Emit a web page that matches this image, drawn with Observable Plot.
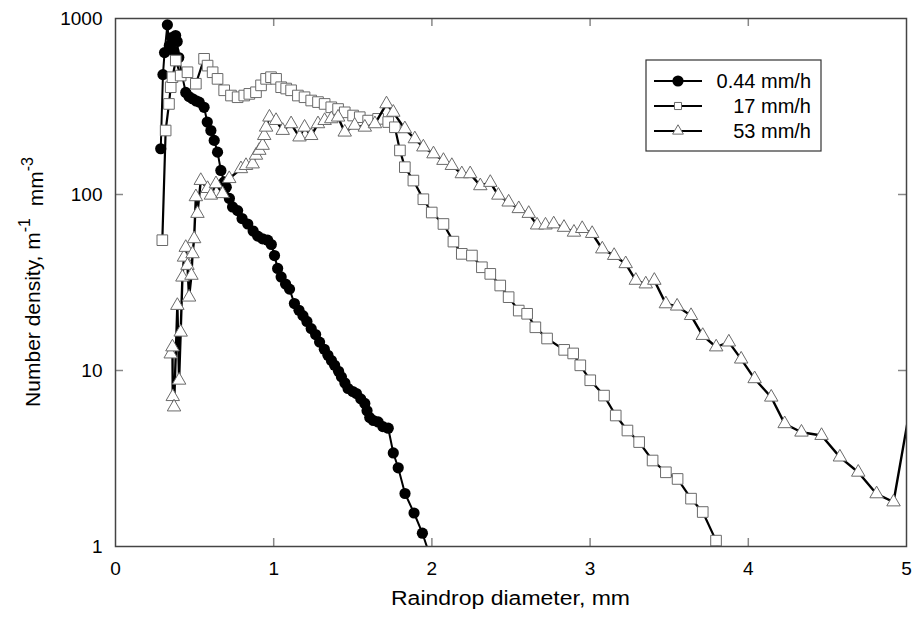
<!DOCTYPE html>
<html><head><meta charset="utf-8">
<script src="https://cdn.jsdelivr.net/npm/d3@7"></script>
<script src="https://cdn.jsdelivr.net/npm/@observablehq/plot@0.6"></script>
<style>body{margin:0;background:#fff;}</style>
</head><body><div id="chart"></div><script>
// Series labels
const seriesNames = ["0.44 mm/h", "17 mm/h", "53 mm/h"];
// 0.44 mm/h (filled circles)
const diam1 = [0.286,0.30,0.31,0.328,0.34,0.355,0.37,0.38,0.39,0.40,0.42,0.444,0.465,0.487,0.51,0.529,0.56,0.58,0.603,0.624,0.645,0.666,0.687,0.70,0.72,0.74,0.772,0.80,0.836,0.87,0.899,0.93,0.962,0.985,1.005,1.025,1.047,1.075,1.10,1.131,1.16,1.185,1.21,1.237,1.265,1.29,1.32,1.343,1.365,1.385,1.41,1.428,1.45,1.47,1.50,1.523,1.55,1.576,1.59,1.607,1.63,1.66,1.69,1.724,1.756,1.787,1.83,1.887,1.94,2.00];
const dens1 = [182,480,640,920,700,780,650,800,740,600,480,380,360,350,340,335,313,258,231,203,174,137,118,110,95,85,81,73,68,62,58,56,55,52,45,38,34,31,29,24,22,20.5,19,17.3,16,14.5,13.2,12.2,11.4,10.7,9.9,9.2,8.5,7.9,7.6,7.4,6.9,6.5,5.9,5.4,5.2,5.1,4.8,4.7,3.4,2.8,2.0,1.55,1.19,0.82];
// 17 mm/h (open squares)
const diam2 = [0.296,0.317,0.338,0.349,0.36,0.381,0.412,0.455,0.508,0.56,0.582,0.614,0.645,0.687,0.73,0.772,0.814,0.846,0.888,0.92,0.952,0.983,1.015,1.047,1.079,1.11,1.153,1.195,1.237,1.28,1.322,1.364,1.407,1.449,1.502,1.544,1.597,1.66,1.724,1.766,1.798,1.829,1.883,1.946,1.999,2.073,2.136,2.189,2.253,2.316,2.369,2.432,2.485,2.549,2.602,2.654,2.728,2.836,2.893,2.938,3.001,3.088,3.162,3.236,3.31,3.395,3.479,3.553,3.638,3.712,3.796,3.83];
const dens2 = [55,231,327,407,464,577,474,495,426,590,540,495,454,391,365,357,365,373,381,417,454,464,454,407,400,391,365,357,342,335,327,313,306,293,281,275,263,269,258,241,178,143,120,94,79,68,54,46,45,38.6,35.4,30.4,26.1,21.9,21,17.6,15.2,13.1,12.5,10.7,8.8,7.2,5.55,4.56,3.92,3.08,2.64,2.42,1.87,1.57,1.08,0.85];
// 53 mm/h (open triangles)
const diam3 = [0.349,0.36,0.362,0.37,0.391,0.402,0.412,0.423,0.433,0.444,0.455,0.465,0.48,0.487,0.497,0.508,0.518,0.539,0.582,0.603,0.635,0.677,0.719,0.793,0.825,0.867,0.888,0.909,0.93,0.94,0.952,0.973,1.015,1.057,1.11,1.163,1.195,1.237,1.28,1.322,1.364,1.407,1.449,1.512,1.576,1.64,1.713,1.756,1.829,1.892,1.946,2.01,2.073,2.126,2.189,2.242,2.306,2.369,2.42,2.485,2.549,2.612,2.665,2.718,2.77,2.835,2.898,2.95,3.013,3.077,3.152,3.225,3.289,3.352,3.406,3.479,3.55,3.638,3.712,3.797,3.877,3.955,4.04,4.145,4.23,4.336,4.463,4.579,4.695,4.811,4.918,5.05];
const dens3 = [12.4,13.6,7.1,6.2,23.4,8.8,16.5,33.9,44,50,39.5,26.1,34.7,46,56,97,78,120,108,99,115,101,123,140,146,149,167,178,190,216,241,275,263,231,252,212,241,216,252,263,269,275,226,247,241,252,327,293,236,207,186,170,156,146,131,131,112,117,99,90.5,83,78,67,67,68,65,61,64,60,49,45,40.4,32.5,31,32.5,23.9,23.2,20.5,15.8,13.6,14.5,11.6,8.97,7.05,4.98,4.46,4.27,3.22,2.64,1.99,1.79,8.5];
// Axis ticks
const xTicks = [0,1,2,3,4,5];
const yTicks = [1,10,100,1000];
const xInner = [1,2,3,4];
const yInner = [10,100];
const xLabel = "Raindrop diameter, mm";

const rows = (ds, ns) => ds.map((d,i) => ({d, n: ns[i]}));
const r1 = rows(diam1, dens1), r2 = rows(diam2, dens2), r3 = rows(diam3, dens3);

const W = 912, H = 622, mL = 115, mR = 6, mT = 18, mB = 76;
const pw = W - mL - mR, ph = H - mT - mB;
const tickStyle = {stroke: "#888", strokeWidth: 1.5};

const plot = Plot.plot({
  width: W, height: H,
  marginLeft: mL, marginRight: mR, marginTop: mT, marginBottom: mB,
  style: {fontFamily: "'Liberation Sans', Arial, sans-serif", fontSize: "19px", background: "#fff", color: "#000"},
  x: {domain: [0, 5]},
  y: {type: "log", domain: [1, 1000]},
  marks: [
    Plot.axisX({ticks: xTicks, tickSize: 0, tickPadding: 15, label: null, tickFormat: d => String(d)}),
    Plot.axisY({ticks: yTicks, tickSize: 0, tickPadding: 13, label: null, tickFormat: d => String(d)}),
    Plot.tickX(xInner, {x: d => d, insetTop: ph - 8, ...tickStyle}),
    Plot.tickX(xInner, {x: d => d, insetBottom: ph - 8, ...tickStyle}),
    Plot.tickY(yInner, {y: d => d, insetRight: pw - 8, ...tickStyle}),
    Plot.tickY(yInner, {y: d => d, insetLeft: pw - 8, ...tickStyle}),
    Plot.line(r1, {x: "d", y: "n", stroke: "#000", strokeWidth: 2, clip: true}),
    Plot.dot(r1, {x: "d", y: "n", r: 5.6, fill: "#000", symbol: "circle", clip: true}),
    Plot.line(r2, {x: "d", y: "n", stroke: "#000", strokeWidth: 2.2, clip: true}),
    Plot.dot(r2, {x: "d", y: "n", r: 6, fill: "#fff", stroke: "#6a6a6a", strokeWidth: 1, symbol: "square", clip: true}),
    Plot.line(r3, {x: "d", y: "n", stroke: "#000", strokeWidth: 2.4, clip: true}),
    Plot.dot(r3, {x: "d", y: "n", r: 5, fill: "#fff", stroke: "#6a6a6a", strokeWidth: 1, symbol: "triangle", clip: true}),
    Plot.frame({stroke: "#444", strokeWidth: 1.5})
  ]
});

const svg = d3.select(plot);
// X axis label
svg.append("text")
  .attr("x", mL + pw / 2).attr("y", 605)
  .attr("text-anchor", "middle")
  .attr("textLength", 239).attr("lengthAdjust", "spacingAndGlyphs")
  .style("font-size", "20px")
  .text(xLabel);
// Y axis label with superscripts
const yl = svg.append("text")
  .attr("transform", `translate(40,${mT + ph / 2}) rotate(-90)`)
  .attr("text-anchor", "middle")
  .style("font-size", "21px");
yl.append("tspan").text("Number density, m");
yl.append("tspan").attr("dy", "-0.6em").style("font-size", "16px").text("-1");
yl.append("tspan").attr("dy", "0.6em").text("  mm");
yl.append("tspan").attr("dy", "-0.6em").style("font-size", "16px").text("-3");

// Legend
const lg = svg.append("g");
lg.append("rect").attr("x", 646).attr("y", 60).attr("width", 175).attr("height", 91)
  .attr("fill", "#fff").attr("stroke", "#333").attr("stroke-width", 1.2);
const legendSymbols = [
  {sym: d3.symbolCircle, size: Math.PI * 5.6 * 5.6, fill: "#000", stroke: "none"},
  {sym: d3.symbolSquare, size: Math.PI * 4 * 4, fill: "#fff", stroke: "#6a6a6a"},
  {sym: d3.symbolTriangle, size: Math.PI * 4 * 4, fill: "#fff", stroke: "#6a6a6a"}
];
const rowY = [81, 106, 131];
seriesNames.forEach((name, i) => {
  const y = rowY[i];
  lg.append("line").attr("x1", 654).attr("x2", 702).attr("y1", y).attr("y2", y)
    .attr("stroke", "#000").attr("stroke-width", 2);
  lg.append("path").attr("transform", `translate(678,${y})`)
    .attr("d", d3.symbol(legendSymbols[i].sym, legendSymbols[i].size)())
    .attr("fill", legendSymbols[i].fill).attr("stroke", legendSymbols[i].stroke);
  lg.append("text").attr("x", 811).attr("y", y).attr("dy", "0.35em")
    .attr("text-anchor", "end").style("font-size", "20px").text(name);
});

document.getElementById("chart").appendChild(plot);
</script></body></html>
